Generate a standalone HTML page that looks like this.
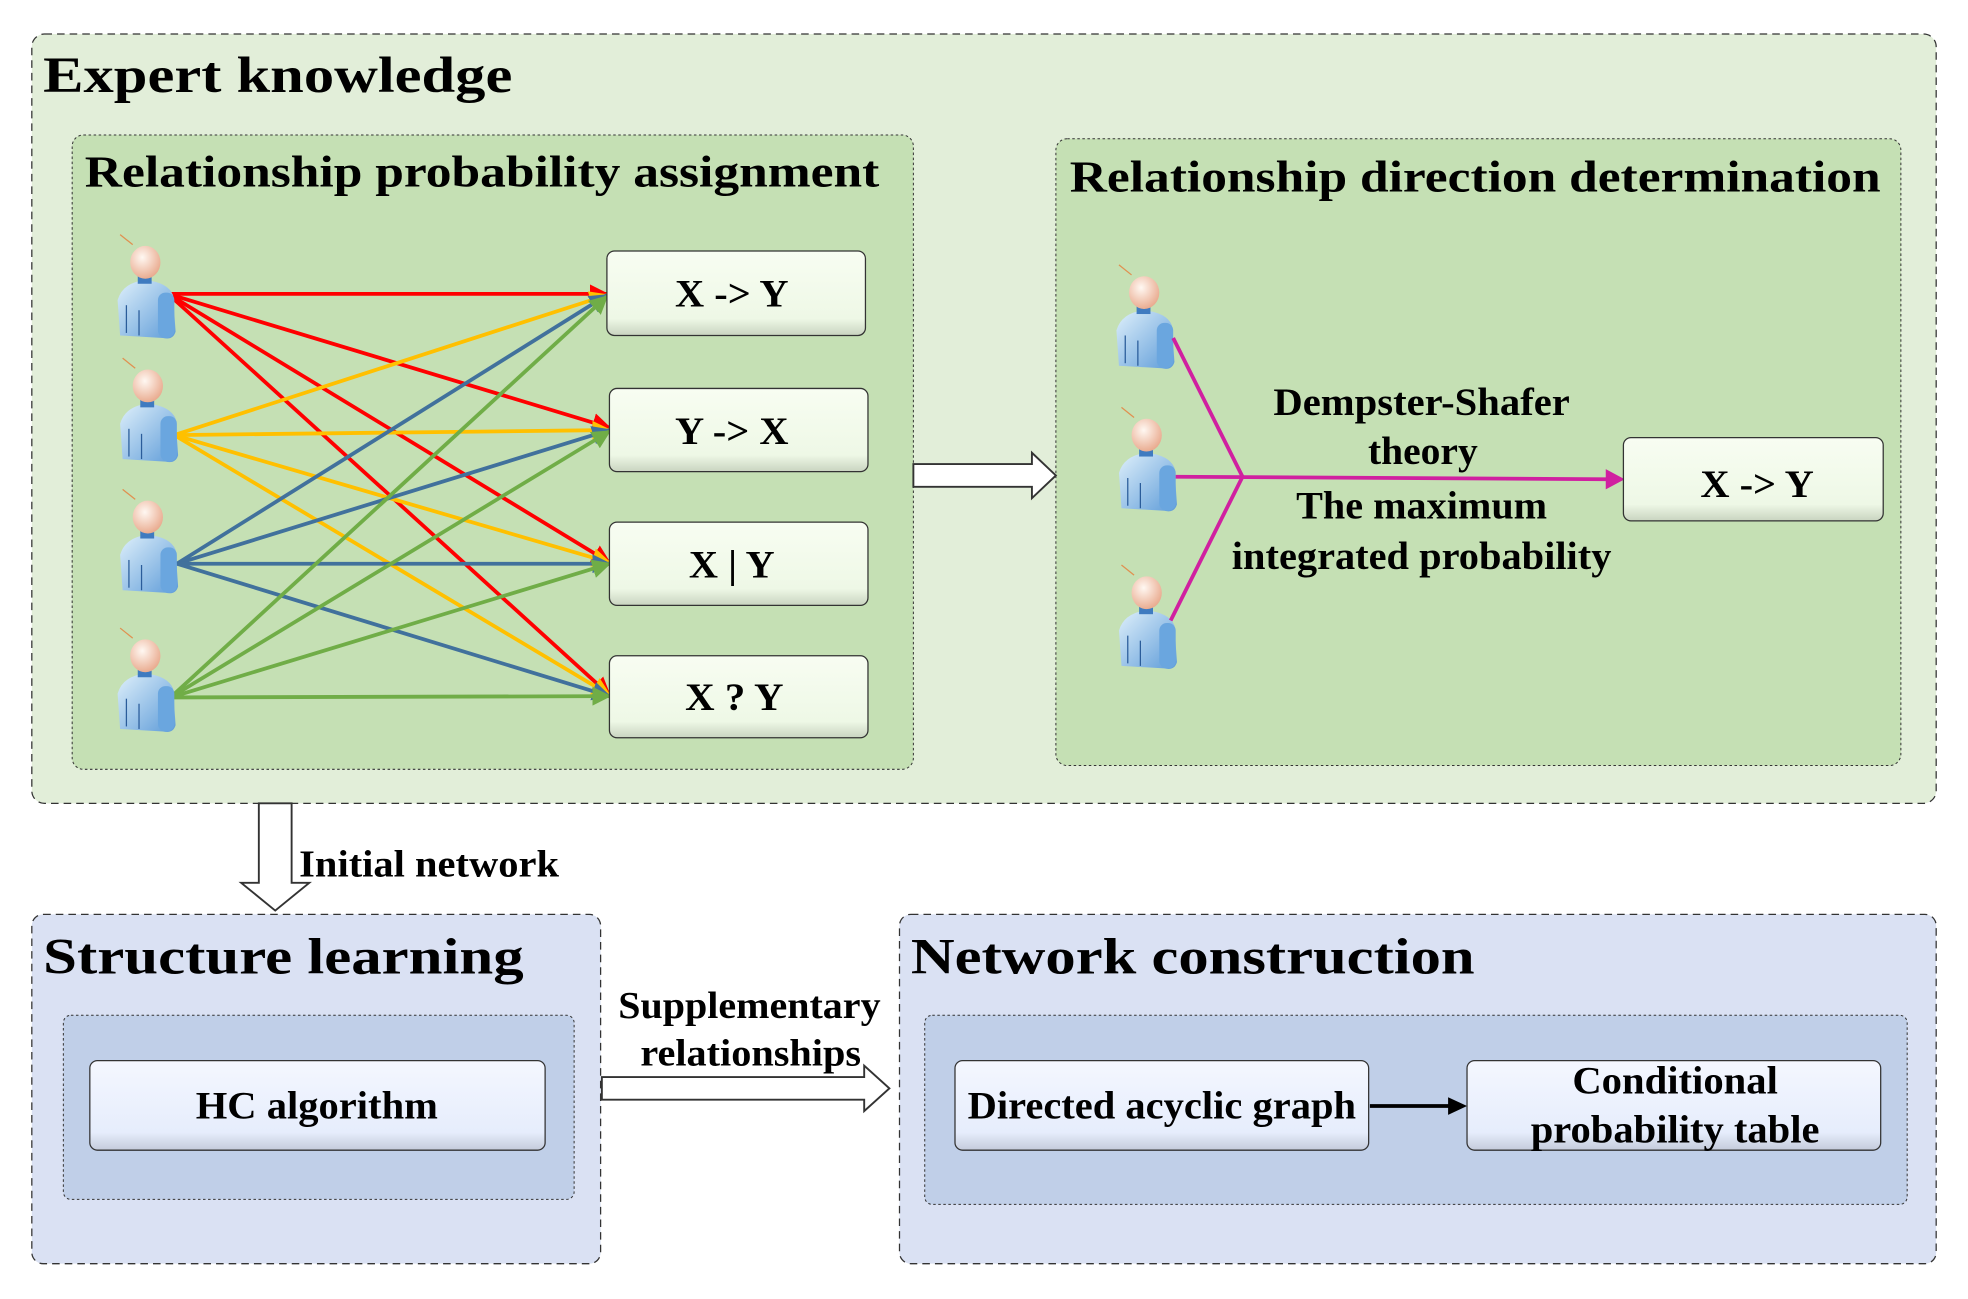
<!DOCTYPE html>
<html><head><meta charset="utf-8"><style>
html,body{margin:0;padding:0;background:#fff;}
svg{display:block;}
text{font-family:"Liberation Serif",serif;font-weight:bold;fill:#000;}
</style></head><body>
<svg width="1968" height="1299" viewBox="0 0 1560 1030" xmlns="http://www.w3.org/2000/svg">
<defs>
<linearGradient id="btn" x1="0" y1="0" x2="0" y2="1"><stop offset="0" stop-color="#f8fdf2"/><stop offset="0.8" stop-color="#eef8e6"/><stop offset="1" stop-color="#c9d4c0"/></linearGradient>
<linearGradient id="btnb" x1="0" y1="0" x2="0" y2="1"><stop offset="0" stop-color="#f4f7ff"/><stop offset="0.8" stop-color="#e6edfc"/><stop offset="1" stop-color="#c4cbdb"/></linearGradient>
<radialGradient id="head" cx="0.4" cy="0.35" r="0.7"><stop offset="0" stop-color="#fff8f2"/><stop offset="1" stop-color="#e8a78a"/></radialGradient>
<linearGradient id="body" x1="0" y1="0" x2="1" y2="1"><stop offset="0" stop-color="#dff0fb"/><stop offset="1" stop-color="#5d9bd8"/></linearGradient>
<g id="person">
<line x1="-20" y1="-22" x2="-10" y2="-14" stroke="#e09050" stroke-width="1"/>
<path d="M-20,58 L-22,30 Q-18,16 0,14 Q18,16 22,26 L24,55 Q22,62 14,60 Z" fill="url(#body)"/>
<rect x="10" y="24" width="13" height="36" rx="6" fill="#6aa6df"/>
<line x1="-15" y1="34" x2="-15" y2="56" stroke="#2a5c9a" stroke-width="1"/>
<line x1="-5" y1="38" x2="-5" y2="58" stroke="#2a5c9a" stroke-width="1"/>
<rect x="-6" y="10" width="11" height="7" fill="#3f7bc0"/>
<ellipse cx="0" cy="0" rx="12" ry="13" fill="url(#head)"/>
</g>
<marker id="ar" viewBox="0 0 10 10" refX="9" refY="5" markerWidth="5" markerHeight="5" orient="auto"><path d="M0,0 L10,5 L0,10 Z" fill="context-stroke"/></marker>
</defs>

<rect x="25" y="27" width="1510" height="610" rx="10" fill="#e2eed9" stroke="#333" stroke-width="1" stroke-dasharray="6,4"/>
<text x="34" y="73" font-size="40" textLength="372" lengthAdjust="spacingAndGlyphs">Expert knowledge</text>

<rect x="57" y="107" width="667" height="503" rx="9" fill="#c5e0b4" stroke="#333" stroke-width="0.8" stroke-dasharray="2,2"/>
<text x="67" y="148" font-size="35" textLength="630" lengthAdjust="spacingAndGlyphs">Relationship probability assignment</text>

<rect x="837" y="110" width="670" height="497" rx="9" fill="#c5e0b4" stroke="#333" stroke-width="0.8" stroke-dasharray="2,2"/>
<text x="848" y="152" font-size="35" textLength="643" lengthAdjust="spacingAndGlyphs">Relationship direction determination</text>

<g stroke-width="3" fill="none" marker-end="url(#ar)">
<g stroke="#ff0000">
<line x1="133" y1="233" x2="481" y2="233"/><line x1="133" y1="233" x2="483" y2="339"/><line x1="133" y1="233" x2="483" y2="446"/><line x1="133" y1="233" x2="483" y2="551"/>
</g>
<g stroke="#ffc000">
<line x1="138" y1="345" x2="481" y2="234"/><line x1="138" y1="345" x2="483" y2="341"/><line x1="138" y1="345" x2="483" y2="446"/><line x1="138" y1="345" x2="483" y2="551"/>
</g>
<g stroke="#41719c">
<line x1="140" y1="447" x2="481" y2="234"/><line x1="140" y1="447" x2="483" y2="341"/><line x1="140" y1="447" x2="483" y2="447"/><line x1="140" y1="447" x2="483" y2="552"/>
</g>
<g stroke="#70ad47">
<line x1="135" y1="553" x2="481" y2="235"/><line x1="135" y1="553" x2="483" y2="342"/><line x1="135" y1="553" x2="483" y2="447"/><line x1="135" y1="553" x2="483" y2="552"/>
</g>
</g>

<use href="#person" x="115" y="208"/>
<use href="#person" x="117" y="306"/>
<use href="#person" x="117" y="410"/>
<use href="#person" x="115" y="520"/>

<g font-size="31" text-anchor="middle">
<rect x="481" y="199" width="205" height="67" rx="6" fill="url(#btn)" stroke="#333"/>
<text x="580" y="243" textLength="90" lengthAdjust="spacingAndGlyphs">X -&gt; Y</text>
<rect x="483" y="308" width="205" height="66" rx="6" fill="url(#btn)" stroke="#333"/>
<text x="580" y="352" textLength="90" lengthAdjust="spacingAndGlyphs">Y -&gt; X</text>
<rect x="483" y="414" width="205" height="66" rx="6" fill="url(#btn)" stroke="#333"/>
<text x="580" y="458" textLength="68" lengthAdjust="spacingAndGlyphs">X | Y</text>
<rect x="483" y="520" width="205" height="65" rx="6" fill="url(#btn)" stroke="#333"/>
<text x="582" y="563" textLength="78" lengthAdjust="spacingAndGlyphs">X ? Y</text>
</g>

<path d="M724,368 L818,368 L818,359 L837,377 L818,395 L818,386 L724,386 Z" fill="#fff" stroke="#333" stroke-width="1.5"/>

<use href="#person" x="907" y="232"/>
<use href="#person" x="909" y="345"/>
<use href="#person" x="909" y="470"/>
<g stroke="#d020a0" stroke-width="3" fill="none">
<line x1="930" y1="268" x2="985" y2="378"/>
<line x1="928" y1="492" x2="985" y2="378"/>
<line x1="932" y1="378" x2="1274" y2="380"/>
</g>
<path d="M1273,372 L1288,380 L1273,388 Z" fill="#d020a0"/>
<g font-size="31" text-anchor="middle">
<text x="1127" y="329" textLength="235" lengthAdjust="spacingAndGlyphs">Dempster-Shafer</text>
<text x="1128" y="368" textLength="87" lengthAdjust="spacingAndGlyphs">theory</text>
<text x="1127" y="411" textLength="199" lengthAdjust="spacingAndGlyphs">The maximum</text>
<text x="1127" y="451" textLength="301" lengthAdjust="spacingAndGlyphs">integrated probability</text>
</g>
<rect x="1287" y="347" width="206" height="66" rx="6" fill="url(#btn)" stroke="#333"/>
<text x="1393" y="394" font-size="31" text-anchor="middle" textLength="90" lengthAdjust="spacingAndGlyphs">X -&gt; Y</text>

<path d="M205,637 L231,637 L231,700 L245,700 L218,722 L191,700 L205,700 Z" fill="#fff" stroke="#333" stroke-width="1.5"/>
<text x="237" y="695" font-size="30" textLength="206" lengthAdjust="spacingAndGlyphs">Initial network</text>

<rect x="25" y="725" width="451" height="277" rx="9" fill="#dae1f3" stroke="#333" stroke-dasharray="6,4"/>
<text x="34" y="772" font-size="40" textLength="381" lengthAdjust="spacingAndGlyphs">Structure learning</text>
<rect x="50" y="805" width="405" height="146" rx="6" fill="#c0cfe8" stroke="#333" stroke-width="0.8" stroke-dasharray="2,2"/>
<rect x="71" y="841" width="361" height="71" rx="6" fill="url(#btnb)" stroke="#333"/>
<text x="251" y="887" font-size="31" text-anchor="middle" textLength="192" lengthAdjust="spacingAndGlyphs">HC algorithm</text>

<path d="M477,854 L685,854 L685,845 L705,863 L685,881 L685,872 L477,872 Z" fill="#fff" stroke="#333" stroke-width="1.5"/>
<text x="594" y="807" font-size="30" text-anchor="middle" textLength="208" lengthAdjust="spacingAndGlyphs">Supplementary</text>
<text x="595" y="845" font-size="30" text-anchor="middle" textLength="175" lengthAdjust="spacingAndGlyphs">relationships</text>

<rect x="713" y="725" width="822" height="277" rx="9" fill="#dae1f3" stroke="#333" stroke-dasharray="6,4"/>
<text x="722" y="772" font-size="40" textLength="447" lengthAdjust="spacingAndGlyphs">Network construction</text>
<rect x="733" y="805" width="779" height="150" rx="6" fill="#c0cfe8" stroke="#333" stroke-width="0.8" stroke-dasharray="2,2"/>
<rect x="757" y="841" width="328" height="71" rx="6" fill="url(#btnb)" stroke="#333"/>
<text x="921" y="887" font-size="31" text-anchor="middle" textLength="308" lengthAdjust="spacingAndGlyphs">Directed acyclic graph</text>
<line x1="1086" y1="877" x2="1150" y2="877" stroke="#000" stroke-width="3"/>
<path d="M1148,870 L1163,877 L1148,884 Z" fill="#000"/>
<rect x="1163" y="841" width="328" height="71" rx="6" fill="url(#btnb)" stroke="#333"/>
<text x="1328" y="867" font-size="31" text-anchor="middle" textLength="163" lengthAdjust="spacingAndGlyphs">Conditional</text>
<text x="1328" y="906" font-size="31" text-anchor="middle" textLength="229" lengthAdjust="spacingAndGlyphs">probability table</text>
</svg>
</body></html>
